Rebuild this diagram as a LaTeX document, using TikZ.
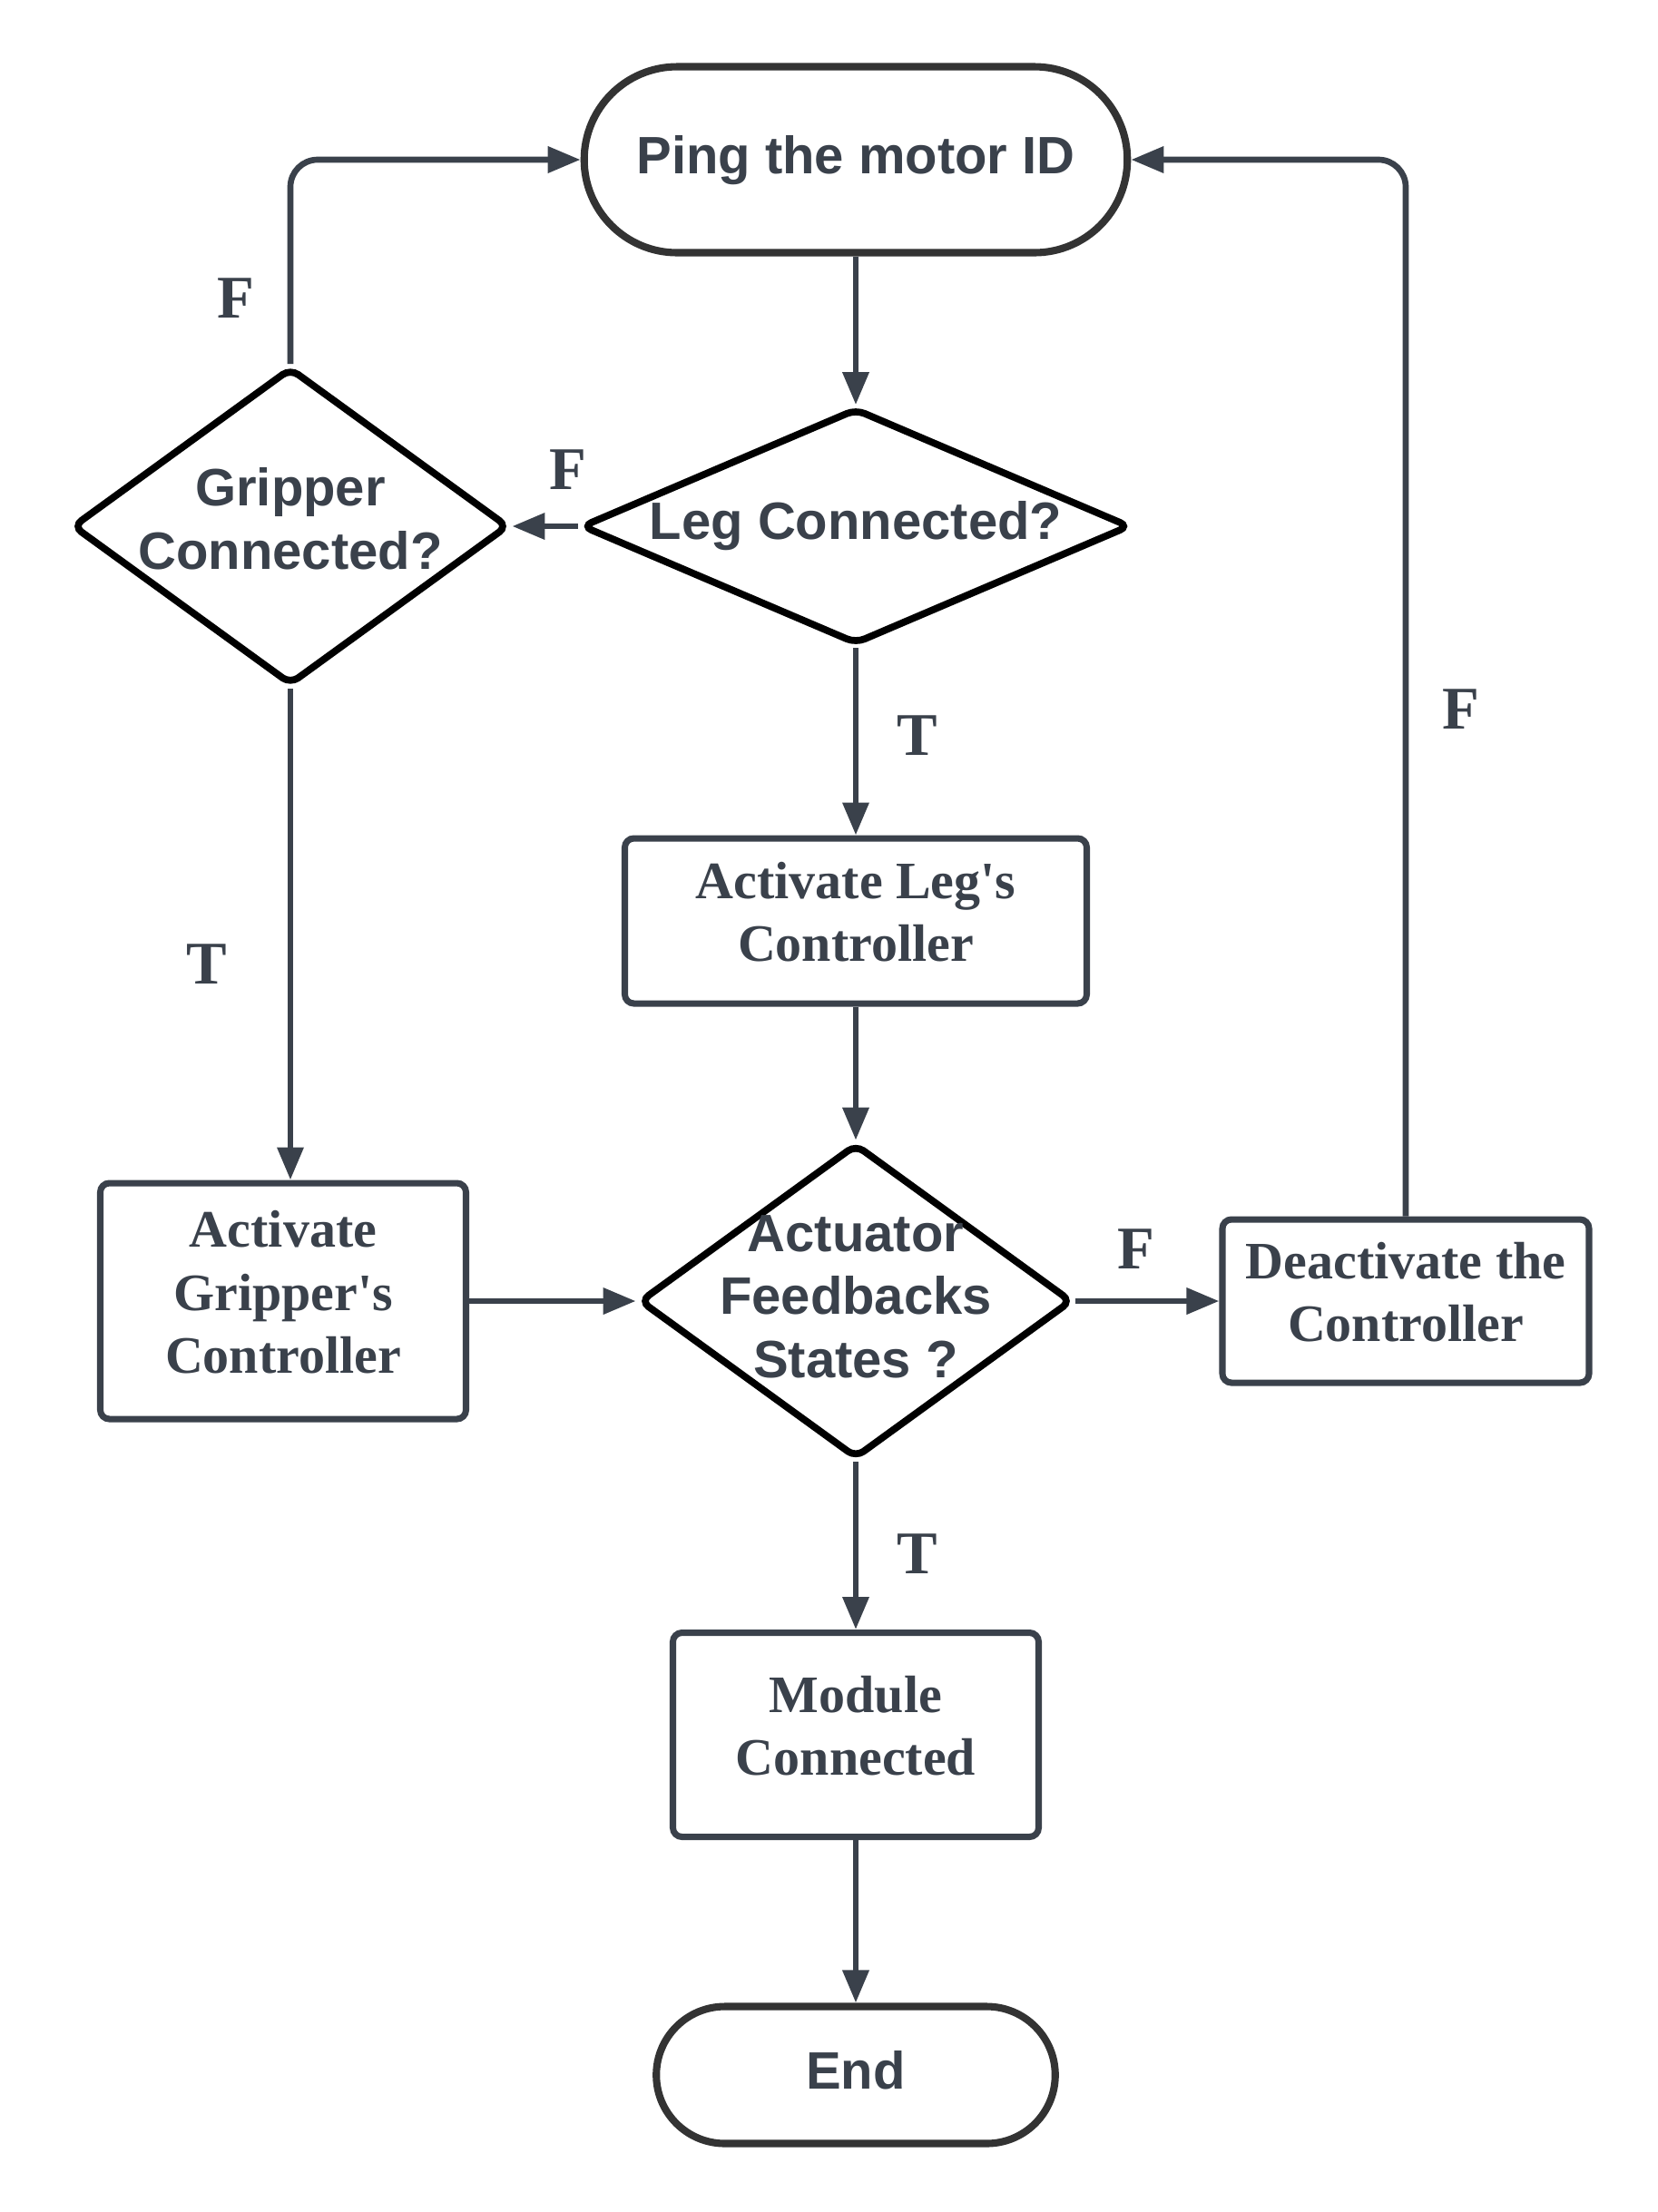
\documentclass[tikz,border=0pt]{standalone}
\usepackage{fontspec}
\setsansfont{Liberation Sans}
\newfontfamily\boxfont{Liberation Serif}
\usetikzlibrary{positioning, shapes.geometric, shapes.misc, arrows.meta}
\definecolor{inkgray}{RGB}{58,65,75}
\definecolor{edgegray}{RGB}{51,51,51}

\begin{document}
\begin{tikzpicture}[
	>={Triangle[length=0.36cm, width=0.28cm]},
	flowline/.style={draw=inkgray, line width=1.9pt, rounded corners=0.3cm},
	terminal/.style={rounded rectangle, draw=edgegray, line width=2.3pt, text depth=0.12cm, text=inkgray, font=\sffamily\bfseries\fontsize{16.5}{19.8}\selectfont},
	decision/.style={diamond, draw=black, line width=2.2pt, rounded corners=3pt, inner sep=0pt},
	question/.style={align=center, text=inkgray, font=\sffamily\bfseries\fontsize{16.5}{19.8}\selectfont},
	procbox/.style={rectangle, draw=inkgray, line width=2pt, rounded corners=0.1cm, align=center, text depth=0.2cm, text=inkgray, font=\boxfont\bfseries\fontsize{16.5}{19.8}\selectfont},
	tf/.style={text=inkgray, font=\boxfont\bfseries\fontsize{19}{22}\selectfont}
	]
	\useasboundingbox (0,0) rectangle (18.26,-24.38);
	\node[terminal, minimum width=6.22cm, minimum height=2.05cm] (ping) at (9.43,-1.76) {Ping the motor ID};
	\node[decision, minimum width=6.05cm, minimum height=2.6cm] (leg) at (9.43,-5.80) {};
	\node[question] (legText) at (leg) {Leg Connected?};
	\node[decision, minimum width=4.81cm, minimum height=3.5cm] (gripper) at (3.20,-5.80) {};
	\node[question] (gripperText) at ([yshift=0.08cm]gripper) {Gripper\\Connected?};
	\node[procbox, minimum width=5.09cm, minimum height=1.82cm] (legctrl) at (9.43,-10.15) {Activate Leg's\\Controller};
	\node[decision, minimum width=4.77cm, minimum height=3.47cm] (actuator) at (9.43,-14.34) {};
	\node[question] (actuatorText) at ([yshift=0.05cm]actuator) {Actuator\\Feedbacks\\States ?};
	\node[procbox, minimum width=4.03cm, minimum height=2.6cm] (gripctrl) at (3.12,-14.34) {Activate\\Gripper's\\Controller};
	\node[procbox, minimum width=4.04cm, minimum height=1.8cm] (deact) at (15.49,-14.34) {Deactivate the\\Controller};
	\node[procbox, minimum width=4.03cm, minimum height=2.25cm] (module) at (9.43,-19.12) {Module\\Connected};
	\node[terminal, minimum width=4.63cm, minimum height=1.51cm] (end) at (9.43,-22.87) {End};

	\draw[flowline, ->] (ping.south) -- (leg.north);
	\draw[flowline, ->] (leg.west) -- (gripper.east) node[tf, pos=0.15, above=0.25cm]{F};
	\draw[flowline, ->] (leg.south) -- (legctrl.north) node[tf, pos=0.47, right=0.3cm]{T};
	\draw[flowline, ->] (legctrl.south) -- (actuator.north);
	\draw[flowline, ->] (gripper.north) |- (ping.west) node[tf, pos=0.16, left=0.25cm]{F};
	\draw[flowline, ->] (gripper.south) -- (gripper.south |- gripctrl.north) node[tf, pos=0.56, left=0.55cm]{T};
	\draw[flowline, ->] (gripctrl.east) -- (actuator.west);
	\draw[flowline, ->] (actuator.east) -- (deact.west) node[tf, pos=0.42, above=0.2cm]{F};
	\draw[flowline, ->] (deact.north) |- (ping.east) node[tf, pos=0.24, right=0.25cm]{F};
	\draw[flowline, ->] (actuator.south) -- (module.north) node[tf, pos=0.55, right=0.3cm]{T};
	\draw[flowline, ->] (module.south) -- (end.north);
\end{tikzpicture}
\end{document}
